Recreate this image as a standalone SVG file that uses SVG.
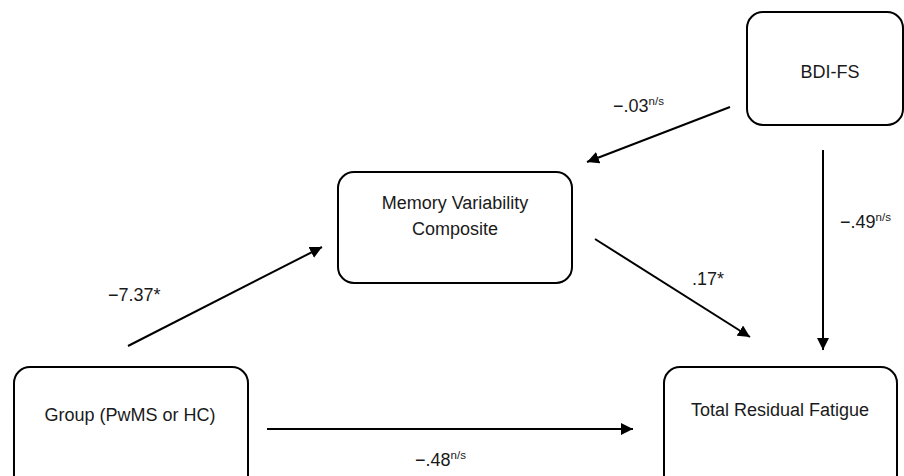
<svg xmlns="http://www.w3.org/2000/svg" width="904" height="476" viewBox="0 0 904 476">
<style>
.box{fill:#fff;stroke:#000;stroke-width:2}
.t{font-family:"Liberation Sans",Arial,sans-serif;font-size:18px;fill:#1a1a1a}
.sup{font-size:11.5px}
.c{stroke:#000;stroke-width:2;fill:none;marker-end:url(#ah)}
</style>
<defs>
<marker id="ah" viewBox="0 0 10 10" refX="10" refY="5" markerWidth="6" markerHeight="6" orient="auto" markerUnits="strokeWidth">
<path d="M0,0 L10,5 L0,10 z" fill="#000"/>
</marker>
</defs>
<rect width="904" height="476" fill="#fff"/>
<g id="bdi">
<rect class="box" x="747" y="12" width="156" height="113" rx="16"/>
<text class="t" x="830" y="78" text-anchor="middle">BDI-FS</text>
</g>
<g id="memory">
<rect class="box" x="338" y="172" width="234" height="111" rx="16"/>
<text class="t" x="455" y="209" text-anchor="middle">Memory Variability</text>
<text class="t" x="455" y="235" text-anchor="middle">Composite</text>
</g>
<g id="group">
<rect class="box" x="14" y="367" width="234" height="130" rx="16"/>
<text class="t" x="130" y="421" text-anchor="middle">Group (PwMS or HC)</text>
</g>
<g id="fatigue">
<rect class="box" x="664" y="367" width="233" height="130" rx="16"/>
<text class="t" x="780" y="416" text-anchor="middle">Total Residual Fatigue</text>
</g>
<g id="connectors">
<line class="c" x1="730" y1="107" x2="587" y2="162"/>
<line class="c" x1="128" y1="346" x2="322" y2="247"/>
<line class="c" x1="595" y1="239" x2="750" y2="337"/>
<line class="c" x1="823" y1="150" x2="823" y2="350"/>
<line class="c" x1="267" y1="429" x2="633" y2="429"/>
<text class="t" x="613" y="112">−.03<tspan class="sup" dy="-7">n/s</tspan></text>
<text class="t" x="108" y="301">−7.37*</text>
<text class="t" x="692" y="285">.17*</text>
<text class="t" x="840" y="228">−.49<tspan class="sup" dy="-7">n/s</tspan></text>
<text class="t" x="415" y="466">−.48<tspan class="sup" dy="-7">n/s</tspan></text>
</g>
</svg>
